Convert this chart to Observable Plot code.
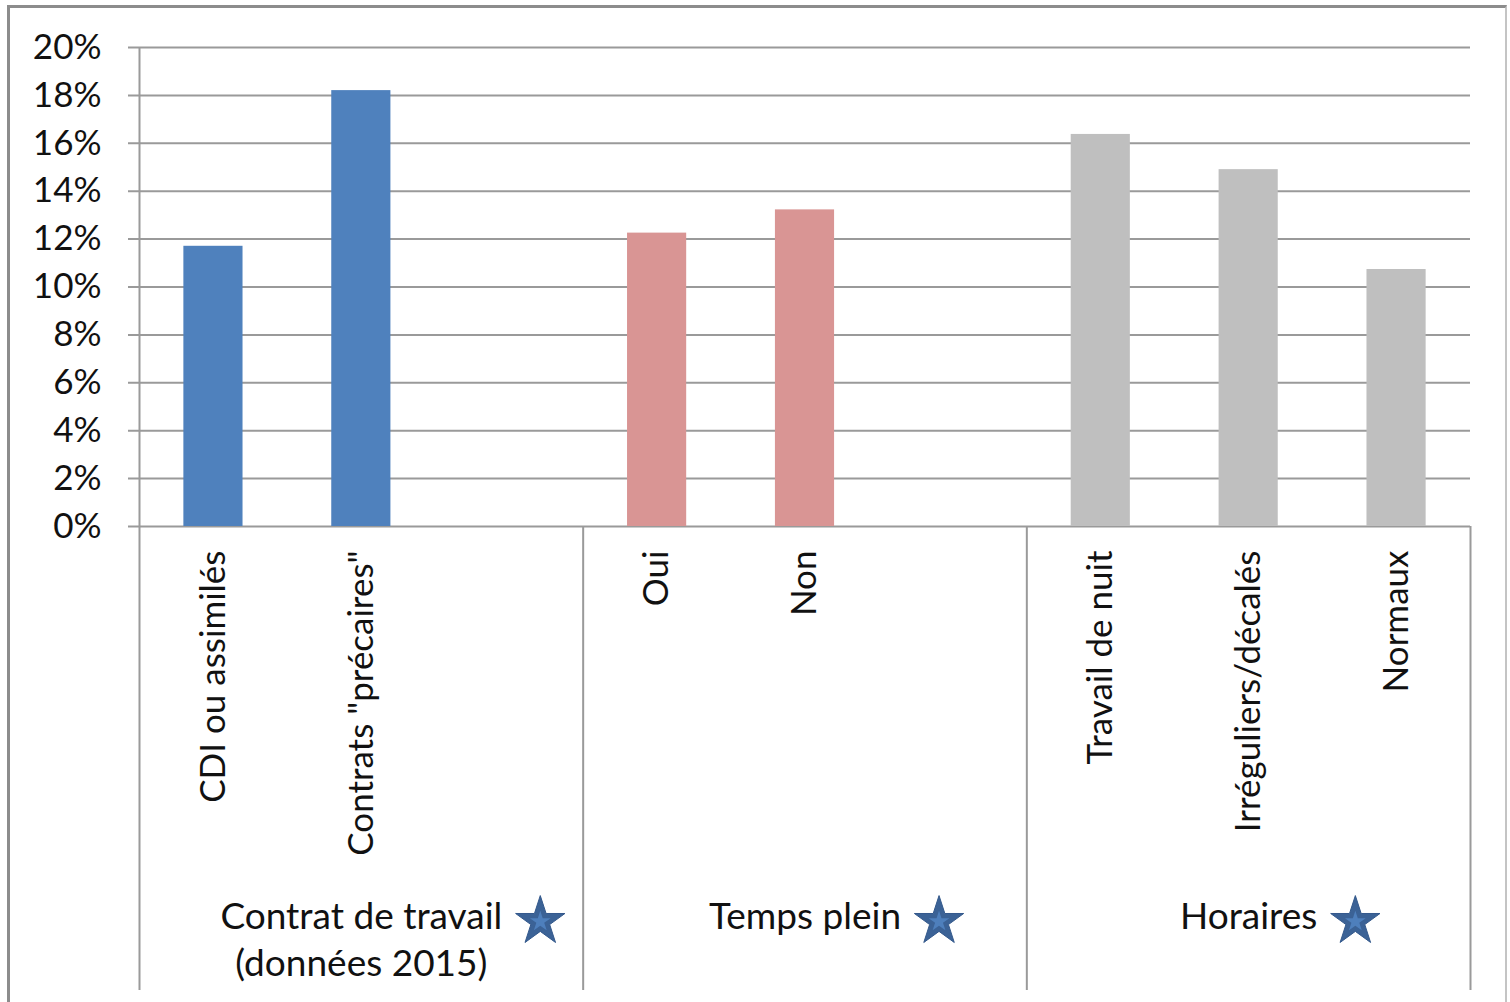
<!DOCTYPE html>
<html><head><meta charset="utf-8">
<script src="https://cdn.jsdelivr.net/npm/d3@7"></script>
<script src="https://cdn.jsdelivr.net/npm/@observablehq/plot@0.6"></script>
<style>
html,body{margin:0;padding:0;background:#fff;}
#wrap{position:relative;width:1510px;height:1002px;overflow:hidden;background:#fff;}
#border{position:absolute;left:7px;top:5px;width:1500px;height:1010px;border-left:3px solid #8c8c8c;border-top:3px solid #8c8c8c;border-right:2px solid #c4c4c4;box-sizing:border-box;}
#chart{position:absolute;left:0;top:0;}
</style></head><body>
<div id="wrap"><div id="border"></div><div id="chart"></div></div>
<script>
// ---- data ----
const categories = ["CDI ou assimilés", "Contrats \"précaires\"", "Oui", "Non", "Travail de nuit", "Irréguliers/décalés", "Normaux"];
const values = [0.117, 0.182, 0.1225, 0.1322, 0.1637, 0.149, 0.1073];
const categoryGroup = ["Contrat de travail", "Contrat de travail", "Temps plein", "Temps plein", "Horaires", "Horaires", "Horaires"];
const groups = ["Contrat de travail", "Temps plein", "Horaires"];
const groupLabels = ["Contrat de travail\n(données 2015)", "Temps plein", "Horaires"];
const groupColors = ["#4F81BD", "#D99594", "#BFBFBF"];
const yTicks = [0, 0.02, 0.04, 0.06, 0.08, 0.10, 0.12, 0.14, 0.16, 0.18, 0.20];

// ---- layout ----
const W = 1510, H = 1002, ML = 139, MR = 40, MT = 47, MB = 476;
const FONT = "Lato", FS = 35, GFS = 37;

const data = categories.map((c, i) => ({category: c, value: values[i], group: categoryGroup[i]}));

// slots: each group padded to the same number of slots
const perGroup = d3.max(groups, g => categoryGroup.filter(x => x === g).length);
const slots = [];
const groupSlots = groups.map((g, gi) => {
  const cats = categories.filter((c, i) => categoryGroup[i] === g);
  const s = [];
  for (let k = 0; k < perGroup; k++) s.push(k < cats.length ? cats[k] : `__empty_${gi}_${k}`);
  slots.push(...s);
  return s;
});
const PI = 0.6, PO = 0.3;
const step = (W - ML - MR) / (slots.length - PI + 2 * PO);

const ctx = document.createElement("canvas").getContext("2d");
ctx.font = `${GFS}px ${FONT}`;
const firstLineWidth = s => ctx.measureText(s.split("\n")[0]).width;

const groupInfo = groups.map((g, gi) => ({group: g, label: groupLabels[gi], mid: groupSlots[gi][Math.floor(perGroup / 2)], first: groupSlots[gi][0]}));
const lastSlot = slots[slots.length - 1];

const lineStyle = {stroke: "#9a9a9a", strokeWidth: 2};

const starMarks = groupInfo.flatMap(gi => {
  const dx = firstLineWidth(gi.label) / 2 + 38;
  return [
    Plot.dot([gi], {x: "mid", y: () => 0, dx, dy: 395, symbol: "star", r: 15.5, fill: "#3B6296", stroke: "#34598c", strokeWidth: 1}),
    Plot.dot([gi], {x: "mid", y: () => 0, dx, dy: 395, symbol: "star", r: 6.5, fill: "#4E7FBC"})
  ];
});

const chart = Plot.plot({
  width: W, height: H,
  marginLeft: ML, marginRight: MR, marginTop: MT, marginBottom: MB,
  style: {fontFamily: FONT, fontSize: `${FS}px`, color: "#111", background: "transparent"},
  x: {domain: slots, paddingInner: PI, paddingOuter: PO, round: false, axis: null},
  y: {domain: [0, 0.2], axis: null},
  color: {domain: groups, range: groupColors},
  marks: [
    Plot.ruleY(yTicks, {y: d => d, ...lineStyle, insetLeft: -11}),
    Plot.barY(data, {x: "category", y: "value", fill: "group"}),
    Plot.axisY({ticks: yTicks, tickFormat: d3.format(".0%"), tickSize: 0, tickPadding: 38, fontSize: FS, fill: "#111", textAnchor: "end", label: null}),
    // y axis line
    Plot.ruleX([slots[0]], {x: d => d, dx: -step / 2, ...lineStyle}),
    // group dividers below the axis
    Plot.ruleX(groupInfo, {x: "first", y1: () => 0, y2: () => 0, insetBottom: -464, dx: -step / 2, ...lineStyle}),
    Plot.ruleX([lastSlot], {x: d => d, y1: () => 0, y2: () => 0, insetBottom: -464, dx: step / 2, ...lineStyle}),
    // category labels
    Plot.text(data, {x: "category", y: () => 0, text: "category", rotate: -90, textAnchor: "end", dy: 24, fontSize: FS, fill: "#111"}),
    // group labels
    Plot.text(groupInfo, {x: "mid", y: () => 0, text: "label", lineAnchor: "top", lineHeight: 1.27, dy: 369, fontSize: GFS, fill: "#111"}),
    ...starMarks
  ]
});
document.getElementById("chart").appendChild(chart);
</script>
</body></html>
